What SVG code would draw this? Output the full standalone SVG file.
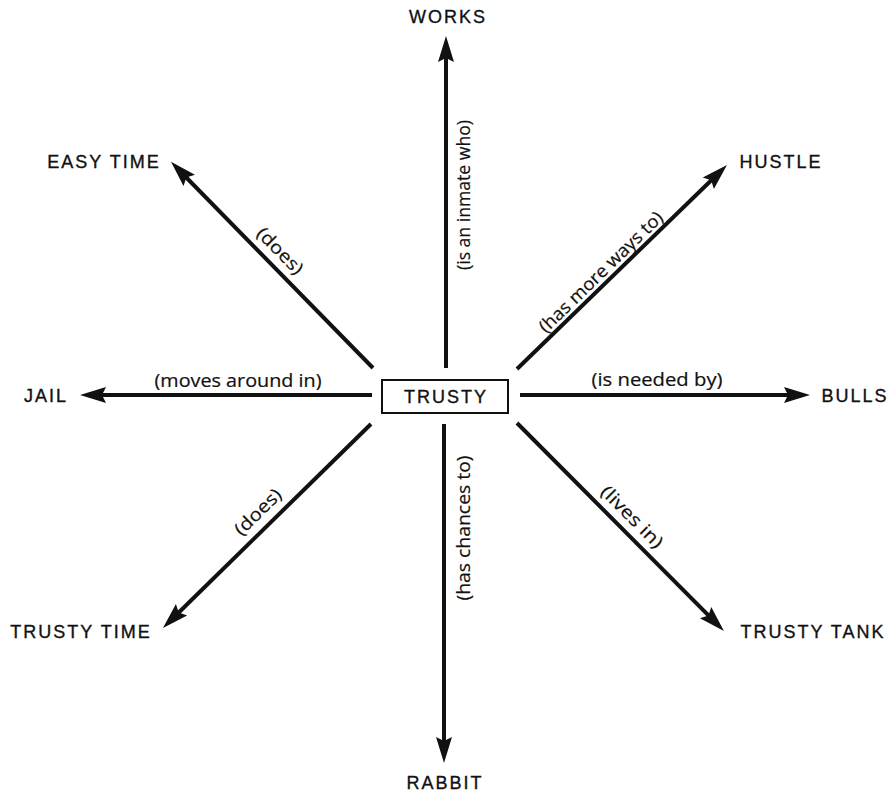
<svg xmlns="http://www.w3.org/2000/svg" width="896" height="794" viewBox="0 0 896 794">
<style>
.node{font-family:"Liberation Sans",Arial,sans-serif;font-size:18px;letter-spacing:2px;fill:#111;stroke:#111;stroke-width:0.35;text-anchor:middle}
.lbl{font-family:"Open Sans","DejaVu Sans",sans-serif;font-size:18px;fill:#111;stroke:#111;stroke-width:0.2;text-anchor:middle}
.edge{stroke:#111;stroke-width:4;fill:none;marker-end:url(#ah)}
</style>
<defs>
<marker id="ah" markerUnits="userSpaceOnUse" markerWidth="27" markerHeight="17" refX="16" refY="8" orient="auto" overflow="visible">
<path d="M0,0 L26,8 L0,16 L4,8 Z" fill="#111"/>
</marker>
</defs>
<rect width="896" height="794" fill="#fff"/>
<g id="connectors">
<line class="edge" x1="446" y1="368" x2="446" y2="46"/>
<line class="edge" x1="444" y1="424" x2="444" y2="753"/>
<line class="edge" x1="372" y1="395" x2="90" y2="395"/>
<line class="edge" x1="520" y1="395" x2="800" y2="395"/>
<line class="edge" x1="373" y1="368" x2="178" y2="169"/>
<line class="edge" x1="517" y1="369" x2="719.8" y2="172"/>
<line class="edge" x1="371" y1="424" x2="170.1" y2="621"/>
<line class="edge" x1="517" y1="423" x2="716.9" y2="623.9"/>
<g id="edge-labels">
<text class="lbl" transform="translate(464,195) rotate(-90)" y="6" textLength="150" lengthAdjust="spacingAndGlyphs">(is an inmate who)</text>
<text class="lbl" transform="translate(464,528) rotate(-90)" y="6" textLength="145" lengthAdjust="spacingAndGlyphs">(has chances to)</text>
<text class="lbl" x="238" y="387" textLength="167" lengthAdjust="spacingAndGlyphs">(moves around in)</text>
<text class="lbl" x="657" y="386" textLength="131" lengthAdjust="spacingAndGlyphs">(is needed by)</text>
<text class="lbl" transform="translate(280,251) rotate(45.5)" y="6" textLength="58" lengthAdjust="spacingAndGlyphs">(does)</text>
<text class="lbl" transform="translate(601,272) rotate(-44.2)" y="6" textLength="165" lengthAdjust="spacingAndGlyphs">(has more ways to)</text>
<text class="lbl" transform="translate(258,512) rotate(-44.5)" y="6" textLength="58" lengthAdjust="spacingAndGlyphs">(does)</text>
<text class="lbl" transform="translate(632,517) rotate(45.1)" y="6" textLength="80" lengthAdjust="spacingAndGlyphs">(lives in)</text>
</g>
</g>
<g id="trusty">
<rect x="382" y="380" width="126" height="33" fill="#fff" stroke="#111" stroke-width="2"/>
<text class="node" x="446" y="403">TRUSTY</text>
</g>
<g id="works"><text class="node" x="448" y="23">WORKS</text></g>
<g id="easy-time"><text class="node" x="104" y="168">EASY TIME</text></g>
<g id="hustle"><text class="node" x="781" y="168">HUSTLE</text></g>
<g id="jail"><text class="node" x="46" y="402">JAIL</text></g>
<g id="bulls"><text class="node" x="855" y="402">BULLS</text></g>
<g id="trusty-time"><text class="node" x="81" y="638">TRUSTY TIME</text></g>
<g id="trusty-tank"><text class="node" x="813" y="638">TRUSTY TANK</text></g>
<g id="rabbit"><text class="node" x="445" y="789">RABBIT</text></g>
</svg>
